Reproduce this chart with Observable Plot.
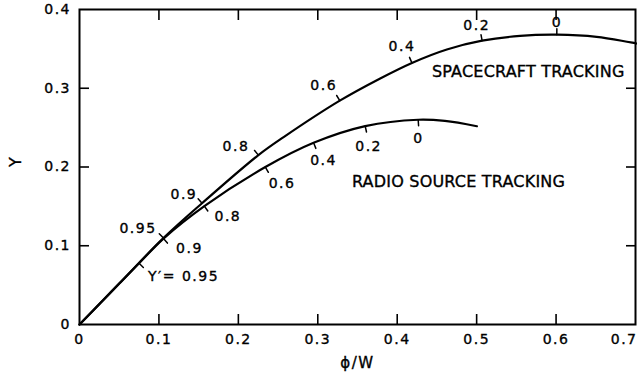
<!DOCTYPE html>
<html><head><meta charset="utf-8">
<script src="https://cdn.jsdelivr.net/npm/d3@7"></script>
<script src="https://cdn.jsdelivr.net/npm/@observablehq/plot@0.6"></script>
<style>
html,body{margin:0;padding:0;background:#fff;}
#chart svg{display:block;}
</style></head><body><div id="chart"></div>
<script>
// axes
const xTickValues = [0, 0.1, 0.2, 0.3, 0.4, 0.5, 0.6];
const xTickLabels = ["0", "0.1", "0.2", "0.3", "0.4", "0.5", "0.6"];
const xLastTick = 0.7, xLastLabel = "0.7";
const yTickValues = [0, 0.1, 0.2, 0.3, 0.4];
const yTickLabels = ["0", "0.1", "0.2", "0.3", "0.4"];
const xInnerTicks = [0.1, 0.2, 0.3, 0.4, 0.5, 0.6];
const yInnerTicks = [0.1, 0.2, 0.3];
const xTitle = "\u03d5/W", yTitle = "Y";

// spacecraft tracking curve
const scX = [0, 0.05, 0.1057, 0.1543, 0.2252, 0.257, 0.3277, 0.3786, 0.4185, 0.4625, 0.5069, 0.5547, 0.6009, 0.651, 0.7015];
const scY = [0, 0.052, 0.1098, 0.154, 0.2151, 0.238, 0.2843, 0.3125, 0.3322, 0.3493, 0.3604, 0.3665, 0.368, 0.3653, 0.3568];
// radio source tracking curve
const rsX = [0, 0.075, 0.1057, 0.1572, 0.234, 0.2947, 0.3597, 0.4264, 0.46, 0.5003];
const rsY = [0, 0.0778, 0.1091, 0.1504, 0.1999, 0.2307, 0.2519, 0.26, 0.2585, 0.2518];

// Y' marks on spacecraft curve
const scMarkX = [0.1057, 0.1543, 0.2252, 0.3277, 0.4185, 0.5069, 0.6009];
const scMarkY = [0.1098, 0.154, 0.2151, 0.2843, 0.3322, 0.3604, 0.368];
const scMarkText = ["0.95", "0.9", "0.8", "0.6", "0.4", "0.2", "0"];
const scTextX = [0.0736, 0.1314, 0.197, 0.3075, 0.406, 0.500, 0.601];
const scTextY = [0.122, 0.1656, 0.2256, 0.304, 0.353, 0.380, 0.383];

// Y' marks on radio source curve
const rsMarkX = [0.075, 0.1057, 0.1572, 0.234, 0.2947, 0.3597, 0.4264];
const rsMarkY = [0.0778, 0.1091, 0.1504, 0.1999, 0.2307, 0.2519, 0.26];
const rsMarkText = ["Y\u2032= 0.95", "0.9", "0.8", "0.6", "0.4", "0.2", "0"];
const rsTextX = [0.131, 0.1384, 0.1868, 0.255, 0.3073, 0.364, 0.4268];
const rsTextY = [0.0607, 0.0967, 0.1377, 0.179, 0.2088, 0.2265, 0.2363];

// curve names
const curveNames = ["SPACECRAFT TRACKING", "RADIO SOURCE TRACKING"];
const curveNameX = [0.4437, 0.343];
const curveNameY = [0.3206, 0.1812];

const W = 637, H = 384, ML = 79, MR = 2, MT = 9, MB = 60;
const xDomain = [0, 0.7], yDomain = [0, 0.4];
const kx = (W - ML - MR) / (xDomain[1] - xDomain[0]);
const ky = (H - MT - MB) / (yDomain[1] - yDomain[0]);

function slopeAt(xs, ys, x) {
  let i = xs.findIndex(v => v >= x);
  if (i < 0) i = xs.length - 1;
  const a = Math.max(0, i - 1), b = Math.min(xs.length - 1, i + 1);
  return (ys[b] - ys[a]) / (xs[b] - xs[a]);
}
function angle(xs, ys, x) {
  const s = slopeAt(xs, ys, x) * ky / kx;
  return Math.atan(s) * 180 / Math.PI;
}

const scLine = scX.map((x, i) => ({x, y: scY[i]}));
const rsLine = rsX.map((x, i) => ({x, y: rsY[i]}));
const scMarks = scMarkX.map((x, i) => ({x, y: scMarkY[i], r: -angle(scX, scY, x)}));
const rsMarks = rsMarkX.map((x, i) => ({x, y: rsMarkY[i], r: 180 - angle(rsX, rsY, x)}));
const scTexts = scMarkText.map((t, i) => ({t, x: scTextX[i], y: scTextY[i]}));
const rsTexts = rsMarkText.map((t, i) => ({t, x: rsTextX[i], y: rsTextY[i]}));
const names = curveNames.map((t, i) => ({t, x: curveNameX[i], y: curveNameY[i]}));

const tickShape = {draw(context, l) { context.moveTo(0, 0); context.lineTo(0, -l); }};
const blank = () => "";

const plot = Plot.plot({
  width: W, height: H,
  marginLeft: ML, marginRight: MR, marginTop: MT, marginBottom: MB,
  x: {domain: xDomain},
  y: {domain: yDomain},
  style: {fontFamily: "DejaVu Sans", fontSize: "14px", color: "black", background: "white"},
  marks: [
    Plot.axisX(xInnerTicks, {anchor: "bottom", tickSize: -10, tickFormat: blank, label: null, strokeWidth: 1.6}),
    Plot.axisX(xInnerTicks, {anchor: "top", tickSize: -10, tickFormat: blank, label: null, strokeWidth: 1.6}),
    Plot.axisY(yInnerTicks, {anchor: "left", tickSize: -10, tickFormat: blank, label: null, strokeWidth: 1.6}),
    Plot.axisY(yInnerTicks, {anchor: "right", tickSize: -10, tickFormat: blank, label: null, strokeWidth: 1.6}),
    Plot.axisX(xTickValues, {anchor: "bottom", tickSize: 0, tickPadding: 9.5, label: null,
      tickFormat: d => xTickLabels[xTickValues.indexOf(d)], fontSize: 14}),
    Plot.text([xLastLabel], {x: () => xLastTick, frameAnchor: "bottom", text: d => d, dy: 9.5, dx: 2,
      textAnchor: "end", lineAnchor: "top", fontSize: 14}),
    Plot.axisY(yTickValues, {anchor: "left", tickSize: 0, tickPadding: 8.5, label: null,
      tickFormat: d => yTickLabels[yTickValues.indexOf(d)], fontSize: 14}),
    Plot.frame({stroke: "black", strokeWidth: 2}),
    Plot.line(scLine, {x: "x", y: "y", curve: "catmull-rom", stroke: "black", strokeWidth: 2.2}),
    Plot.line(rsLine, {x: "x", y: "y", curve: "catmull-rom", stroke: "black", strokeWidth: 2.2}),
    Plot.vector(scMarks, {x: "x", y: "y", rotate: "r", length: 6, anchor: "start", shape: tickShape, stroke: "black", strokeWidth: 1.5}),
    Plot.vector(rsMarks, {x: "x", y: "y", rotate: "r", length: 6, anchor: "start", shape: tickShape, stroke: "black", strokeWidth: 1.5}),
    Plot.text(scTexts, {x: "x", y: "y", text: "t", fontSize: 14}),
    Plot.text(rsTexts, {x: "x", y: "y", text: "t", fontSize: 14}),
    Plot.text(names, {x: "x", y: "y", text: "t", textAnchor: "start", fontSize: 16}),
    Plot.text([yTitle], {frameAnchor: "left", text: d => d, dx: -64, rotate: -90, fontSize: 16}),
    Plot.text([xTitle], {frameAnchor: "bottom", text: d => d, dy: 43.5, fontSize: 15})
  ]
});
document.getElementById("chart").appendChild(plot);
const svg = d3.select(plot);
svg.selectAll("text")
  .attr("stroke", "black").attr("stroke-width", 0.35)
  .attr("letter-spacing", function() {
    const s = this.textContent;
    if (curveNames.includes(s)) return "0.2px";
    if (s === xTitle || s === yTitle) return "1.5px";
    return "1.5px";
  });
</script>
</body></html>
